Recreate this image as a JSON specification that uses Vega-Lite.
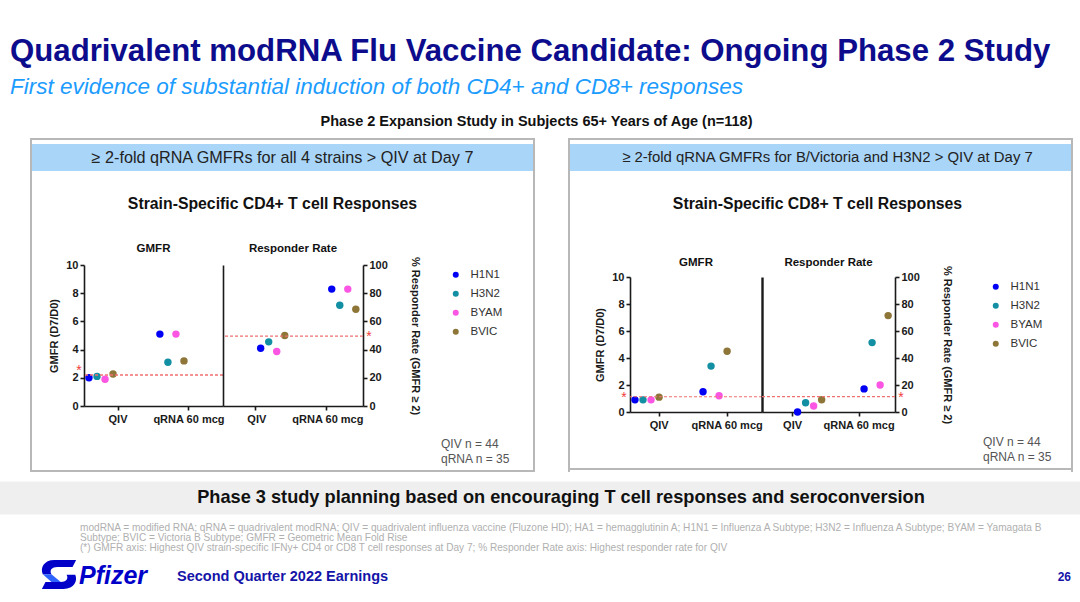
{
  "$schema": "https://vega.github.io/schema/vega-lite/v6.json",
  "background": "white",
  "padding": {"left": 0, "right": 0, "top": 36, "bottom": 0},
  "datasets": {
    "one": [{}],
    "pts": [
      {"panel": "CD4", "measure": "GMFR", "group": "QIV", "strain": "H1N1", "value": 2.0},
      {"panel": "CD4", "measure": "GMFR", "group": "QIV", "strain": "H3N2", "value": 2.1},
      {"panel": "CD4", "measure": "GMFR", "group": "QIV", "strain": "BYAM", "value": 1.9},
      {"panel": "CD4", "measure": "GMFR", "group": "QIV", "strain": "BVIC", "value": 2.27},
      {"panel": "CD4", "measure": "GMFR", "group": "qRNA 60 mcg", "strain": "H1N1", "value": 5.1},
      {"panel": "CD4", "measure": "GMFR", "group": "qRNA 60 mcg", "strain": "H3N2", "value": 3.1},
      {"panel": "CD4", "measure": "GMFR", "group": "qRNA 60 mcg", "strain": "BYAM", "value": 5.1},
      {"panel": "CD4", "measure": "GMFR", "group": "qRNA 60 mcg", "strain": "BVIC", "value": 3.2},
      {"panel": "CD4", "measure": "RR", "group": "QIV", "strain": "H1N1", "value": 40.9},
      {"panel": "CD4", "measure": "RR", "group": "QIV", "strain": "H3N2", "value": 45.5},
      {"panel": "CD4", "measure": "RR", "group": "QIV", "strain": "BYAM", "value": 38.6},
      {"panel": "CD4", "measure": "RR", "group": "QIV", "strain": "BVIC", "value": 50.0},
      {"panel": "CD4", "measure": "RR", "group": "qRNA 60 mcg", "strain": "H1N1", "value": 82.9},
      {"panel": "CD4", "measure": "RR", "group": "qRNA 60 mcg", "strain": "H3N2", "value": 71.4},
      {"panel": "CD4", "measure": "RR", "group": "qRNA 60 mcg", "strain": "BYAM", "value": 82.9},
      {"panel": "CD4", "measure": "RR", "group": "qRNA 60 mcg", "strain": "BVIC", "value": 68.6},
      {"panel": "CD8", "measure": "GMFR", "group": "QIV", "strain": "H1N1", "value": 0.9},
      {"panel": "CD8", "measure": "GMFR", "group": "QIV", "strain": "H3N2", "value": 0.9},
      {"panel": "CD8", "measure": "GMFR", "group": "QIV", "strain": "BYAM", "value": 0.9},
      {"panel": "CD8", "measure": "GMFR", "group": "QIV", "strain": "BVIC", "value": 1.1},
      {"panel": "CD8", "measure": "GMFR", "group": "qRNA 60 mcg", "strain": "H1N1", "value": 1.5},
      {"panel": "CD8", "measure": "GMFR", "group": "qRNA 60 mcg", "strain": "H3N2", "value": 3.4},
      {"panel": "CD8", "measure": "GMFR", "group": "qRNA 60 mcg", "strain": "BYAM", "value": 1.2},
      {"panel": "CD8", "measure": "GMFR", "group": "qRNA 60 mcg", "strain": "BVIC", "value": 4.5},
      {"panel": "CD8", "measure": "RR", "group": "QIV", "strain": "H1N1", "value": 0},
      {"panel": "CD8", "measure": "RR", "group": "QIV", "strain": "H3N2", "value": 6.8},
      {"panel": "CD8", "measure": "RR", "group": "QIV", "strain": "BYAM", "value": 4.5},
      {"panel": "CD8", "measure": "RR", "group": "QIV", "strain": "BVIC", "value": 9.1},
      {"panel": "CD8", "measure": "RR", "group": "qRNA 60 mcg", "strain": "H1N1", "value": 17.1},
      {"panel": "CD8", "measure": "RR", "group": "qRNA 60 mcg", "strain": "H3N2", "value": 51.4},
      {"panel": "CD8", "measure": "RR", "group": "qRNA 60 mcg", "strain": "BYAM", "value": 20.0},
      {"panel": "CD8", "measure": "RR", "group": "qRNA 60 mcg", "strain": "BVIC", "value": 71.4}
    ],
    "refs": [
      {"panel": "CD4", "measure": "GMFR", "value": 2.2},
      {"panel": "CD4", "measure": "RR", "value": 49.5},
      {"panel": "CD8", "measure": "GMFR", "value": 1.13},
      {"panel": "CD8", "measure": "RR", "value": 11.4}
    ],
    "logo": [{"part": "dark"}, {"part": "light"}]
  },
  "config": {
    "font": "Liberation Sans",
    "view": {"stroke": null},
    "axis": {"labelFontSize": 11, "labelFontWeight": "bold", "labelColor": "#1a1a1a", "labelOverlap": false, "titleFontSize": 11, "titleFontWeight": "bold", "titleColor": "#1a1a1a", "domainColor": "#1a1a1a", "domainWidth": 1.6, "tickColor": "#1a1a1a", "tickWidth": 1.6, "tickSize": 4, "grid": false, "labelPadding": 2},
    "legend": {"labelFontSize": 11.5, "labelColor": "#333333", "symbolSize": 36, "symbolType": "circle", "rowPadding": 6, "labelOffset": 9, "padding": 4},
    "title": {"font": "Liberation Sans"}
  },
  "title": {"text": "Quadrivalent modRNA Flu Vaccine Candidate: Ongoing Phase 2 Study", "subtitle": "First evidence of substantial induction of both CD4+ and CD8+ responses", "anchor": "start", "dx": 10, "fontSize": 31.2, "fontWeight": "bold", "color": "#0c0c8c", "subtitleFontSize": 22.5, "subtitleFontStyle": "italic", "subtitleColor": "#1c9cff", "subtitlePadding": 8, "offset": 16},
  "spacing": 5.5,
  "vconcat": [
    {
      "spacing": 0,
      "title": {"text": "Phase 2 Expansion Study in Subjects 65+ Years of Age (n=118)", "fontSize": 14.5, "fontWeight": "bold", "color": "#111111", "anchor": "middle", "offset": 3.5},
      "hconcat": [
        {"data": {"name": "one"}, "mark": {"type": "text", "text": ""}, "width": 30, "height": 334},
        {
          "spacing": 0,
          "hconcat": [
            {"data": {"name": "one"}, "mark": {"type": "text", "text": ""}, "width": 2, "height": 334, "view": {"fill": "#b8b8b8", "stroke": null}},
            {
              "spacing": 0,
              "vconcat": [
                {"data": {"name": "one"}, "mark": {"type": "text", "text": ""}, "width": 501, "height": 2, "view": {"fill": "#b8b8b8", "stroke": null}},
                {"width": 501, "height": 27, "view": {"fill": "#a9d5f8", "stroke": null}, "data": {"name": "one"}, "mark": {"type": "text", "text": "≥ 2-fold qRNA GMFRs for all 4 strains > QIV at Day 7", "align": "center", "baseline": "middle", "fontSize": 16.2, "color": "#222222"}},
                {"width": 501, "height": 71, "data": {"name": "one"}, "mark": {"type": "text", "text": "Strain-Specific CD4+ T cell Responses", "dx": -10, "dy": -2.5, "align": "center", "baseline": "middle", "fontSize": 15.8, "fontWeight": "bold", "color": "#111111"}},
                {
                  "bounds": "flush",
                  "spacing": 0,
                  "resolve": {"scale": {"color": "independent"}},
                  "hconcat": [
                    {"data": {"name": "one"}, "mark": {"type": "text", "text": ""}, "width": 52, "height": 141},
                    {
                      "width": 139, "height": 141,
                      "title": {"text": "GMFR", "fontSize": 11.5, "fontWeight": "bold", "color": "#111111", "offset": 5, "frame": "group"},
                      "layer": [
                        {
                          "data": {"name": "pts"},
                          "transform": [{"filter": "datum.panel === 'CD4' && datum.measure === 'GMFR'"}],
                          "mark": {"type": "circle", "size": 55, "opacity": 1},
                          "encoding": {
                            "x": {"field": "group", "type": "nominal", "sort": ["QIV", "qRNA 60 mcg"], "scale": {"type": "band", "paddingInner": 0.52, "paddingOuter": 0.24, "align": 0}, "axis": {"title": null, "labelAngle": 0, "bandPosition": 1, "labelOffset": 17, "labelPadding": 3}},
                            "xOffset": {"field": "strain", "type": "nominal", "sort": ["H1N1", "H3N2", "BYAM", "BVIC"], "scale": {"type": "point", "padding": 0.62}},
                            "y": {"field": "value", "type": "quantitative", "scale": {"domain": [0, 10], "nice": false}, "axis": {"title": "GMFR (D7/D0)", "values": [0, 2, 4, 6, 8, 10], "titlePadding": 6}},
                            "color": {"field": "strain", "type": "nominal", "scale": {"domain": ["H1N1", "H3N2", "BYAM", "BVIC"], "range": ["#0000f5", "#128fa3", "#fb55e3", "#8e7638"]}, "legend": null}
                          }
                        },
                        {
                          "data": {"name": "refs"},
                          "transform": [{"filter": "datum.panel === 'CD4' && datum.measure === 'GMFR'"}],
                          "mark": {"type": "rule", "color": "#f07070", "strokeDash": [3, 2], "strokeWidth": 1.3},
                          "encoding": {"y": {"field": "value", "type": "quantitative", "axis": {"title": "GMFR (D7/D0)", "values": [0, 2, 4, 6, 8, 10], "titlePadding": 6}}}
                        },
                        {
                          "data": {"name": "refs"},
                          "transform": [{"filter": "datum.panel === 'CD4' && datum.measure === 'GMFR'"}],
                          "mark": {"type": "text", "text": "*", "x": 0, "dx": -5, "dy": -4, "align": "center", "baseline": "middle", "fontSize": 14, "color": "#f03c3c"},
                          "encoding": {"y": {"field": "value", "type": "quantitative", "axis": {"title": "GMFR (D7/D0)", "values": [0, 2, 4, 6, 8, 10], "titlePadding": 6}}}
                        }
                      ]
                    },
                    {
                      "width": 140, "height": 141,
                      "title": {"text": "Responder  Rate", "fontSize": 11.5, "fontWeight": "bold", "color": "#111111", "offset": 1.5, "frame": "group"},
                      "resolve": {"axis": {"y": "independent"}},
                      "layer": [
                        {
                          "data": {"name": "pts"},
                          "transform": [{"filter": "datum.panel === 'CD4' && datum.measure === 'RR'"}],
                          "mark": {"type": "circle", "size": 55, "opacity": 1},
                          "encoding": {
                            "x": {"field": "group", "type": "nominal", "sort": ["QIV", "qRNA 60 mcg"], "scale": {"type": "band", "paddingInner": 0.49, "paddingOuter": 0.23, "align": 1}, "axis": {"title": null, "labelAngle": 0, "bandPosition": 0, "labelOffset": -17, "labelPadding": 3}},
                            "xOffset": {"field": "strain", "type": "nominal", "sort": ["H1N1", "H3N2", "BYAM", "BVIC"], "scale": {"type": "point", "padding": 0.75}},
                            "y": {"field": "value", "type": "quantitative", "scale": {"domain": [0, 100], "nice": false}, "axis": {"orient": "right", "title": "% Responder Rate (GMFR ≥ 2)", "values": [0, 20, 40, 60, 80, 100], "titlePadding": 22}},
                            "color": {"field": "strain", "type": "nominal", "scale": {"domain": ["H1N1", "H3N2", "BYAM", "BVIC"], "range": ["#0000f5", "#128fa3", "#fb55e3", "#8e7638"]}, "legend": {"title": null, "orient": "right", "offset": 25}}
                          }
                        },
                        {
                          "data": {"name": "refs"},
                          "transform": [{"filter": "datum.panel === 'CD4' && datum.measure === 'RR'"}],
                          "mark": {"type": "rule", "color": "#f07070", "strokeDash": [3, 2], "strokeWidth": 1.3},
                          "encoding": {"y": {"field": "value", "type": "quantitative", "axis": {"orient": "left", "labels": false, "ticks": false, "title": null, "domain": true}}}
                        },
                        {
                          "data": {"name": "refs"},
                          "transform": [{"filter": "datum.panel === 'CD4' && datum.measure === 'RR'"}],
                          "mark": {"type": "text", "text": "*", "x": "width", "dx": 6, "dy": 1, "align": "center", "baseline": "middle", "fontSize": 14, "color": "#f03c3c"},
                          "encoding": {"y": {"field": "value", "type": "quantitative", "axis": null}}
                        }
                      ]
                    },
                    {"data": {"name": "one"}, "mark": {"type": "text", "text": ""}, "width": 170, "height": 141,
                     "title": {"text": ["QIV n = 44", "qRNA n = 35"], "orient": "bottom", "anchor": "start", "dx": 78, "offset": 33, "fontSize": 12, "fontWeight": "normal", "color": "#555555", "lineHeight": 15}}
                  ]
                },
                {"data": {"name": "one"}, "mark": {"type": "text", "text": ""}, "width": 501, "height": 2, "view": {"fill": "#b8b8b8", "stroke": null}}
              ]
            },
            {"data": {"name": "one"}, "mark": {"type": "text", "text": ""}, "width": 2, "height": 334, "view": {"fill": "#b8b8b8", "stroke": null}}
          ]
        },
        {"data": {"name": "one"}, "mark": {"type": "text", "text": ""}, "width": 33, "height": 334},
        {
          "spacing": 0,
          "hconcat": [
            {"data": {"name": "one"}, "mark": {"type": "text", "text": ""}, "width": 2, "height": 334, "view": {"fill": "#b8b8b8", "stroke": null}},
            {
              "spacing": 0,
              "vconcat": [
                {"data": {"name": "one"}, "mark": {"type": "text", "text": ""}, "width": 501, "height": 2, "view": {"fill": "#b8b8b8", "stroke": null}},
                {"width": 501, "height": 27, "view": {"fill": "#a9d5f8", "stroke": null}, "data": {"name": "one"}, "mark": {"type": "text", "text": "≥ 2-fold qRNA GMFRs for B/Victoria and H3N2 > QIV at Day 7", "dx": 7, "align": "center", "baseline": "middle", "fontSize": 14.9, "color": "#222222"}},
                {"width": 501, "height": 85, "data": {"name": "one"}, "mark": {"type": "text", "text": "Strain-Specific CD8+ T cell Responses", "dx": -3, "dy": -10, "align": "center", "baseline": "middle", "fontSize": 15.8, "fontWeight": "bold", "color": "#111111"}},
                {
                  "bounds": "flush",
                  "spacing": 0,
                  "resolve": {"scale": {"color": "independent"}},
                  "hconcat": [
                    {"data": {"name": "one"}, "mark": {"type": "text", "text": ""}, "width": 60, "height": 135},
                    {
                      "width": 132, "height": 135,
                      "title": {"text": "GMFR", "fontSize": 11.5, "fontWeight": "bold", "color": "#111111", "offset": 3, "frame": "group"},
                      "layer": [
                        {
                          "data": {"name": "pts"},
                          "transform": [{"filter": "datum.panel === 'CD8' && datum.measure === 'GMFR'"}],
                          "mark": {"type": "circle", "size": 55, "opacity": 1},
                          "encoding": {
                            "x": {"field": "group", "type": "nominal", "sort": ["QIV", "qRNA 60 mcg"], "scale": {"type": "band", "paddingInner": 0.57, "paddingOuter": 0.255, "align": 0}, "axis": {"title": null, "labelAngle": 0, "bandPosition": 1, "labelOffset": 14.5, "labelPadding": 3}},
                            "xOffset": {"field": "strain", "type": "nominal", "sort": ["H1N1", "H3N2", "BYAM", "BVIC"], "scale": {"type": "point", "padding": 0.31}},
                            "y": {"field": "value", "type": "quantitative", "scale": {"domain": [0, 10], "nice": false}, "axis": {"title": "GMFR (D7/D0)", "values": [0, 2, 4, 6, 8, 10], "titlePadding": 6}},
                            "color": {"field": "strain", "type": "nominal", "scale": {"domain": ["H1N1", "H3N2", "BYAM", "BVIC"], "range": ["#0000f5", "#128fa3", "#fb55e3", "#8e7638"]}, "legend": null}
                          }
                        },
                        {
                          "data": {"name": "refs"},
                          "transform": [{"filter": "datum.panel === 'CD8' && datum.measure === 'GMFR'"}],
                          "mark": {"type": "rule", "color": "#f07070", "strokeDash": [3, 2], "strokeWidth": 1.1},
                          "encoding": {"y": {"field": "value", "type": "quantitative", "axis": {"title": "GMFR (D7/D0)", "values": [0, 2, 4, 6, 8, 10], "titlePadding": 6}}}
                        },
                        {
                          "data": {"name": "refs"},
                          "transform": [{"filter": "datum.panel === 'CD8' && datum.measure === 'GMFR'"}],
                          "mark": {"type": "text", "text": "*", "x": 0, "dx": -6, "dy": 1, "align": "center", "baseline": "middle", "fontSize": 14, "color": "#f03c3c"},
                          "encoding": {"y": {"field": "value", "type": "quantitative", "axis": {"title": "GMFR (D7/D0)", "values": [0, 2, 4, 6, 8, 10], "titlePadding": 6}}}
                        }
                      ]
                    },
                    {
                      "width": 133, "height": 135,
                      "title": {"text": "Responder  Rate", "fontSize": 11.5, "fontWeight": "bold", "color": "#111111", "offset": -3, "frame": "group"},
                      "resolve": {"axis": {"y": "independent"}},
                      "layer": [
                        {
                          "data": {"name": "pts"},
                          "transform": [{"filter": "datum.panel === 'CD8' && datum.measure === 'RR'"}],
                          "mark": {"type": "circle", "size": 55, "opacity": 1},
                          "encoding": {
                            "x": {"field": "group", "type": "nominal", "sort": ["QIV", "qRNA 60 mcg"], "scale": {"type": "band", "paddingInner": 0.46, "paddingOuter": 0.23, "align": 1}, "axis": {"title": null, "labelAngle": 0, "bandPosition": 0, "labelOffset": -18, "labelPadding": 3}},
                            "xOffset": {"field": "strain", "type": "nominal", "sort": ["H1N1", "H3N2", "BYAM", "BVIC"], "scale": {"type": "point", "padding": 0.75}},
                            "y": {"field": "value", "type": "quantitative", "scale": {"domain": [0, 100], "nice": false}, "axis": {"orient": "right", "title": "% Responder Rate (GMFR ≥ 2)", "values": [0, 20, 40, 60, 80, 100], "titlePadding": 22}},
                            "color": {"field": "strain", "type": "nominal", "scale": {"domain": ["H1N1", "H3N2", "BYAM", "BVIC"], "range": ["#0000f5", "#128fa3", "#fb55e3", "#8e7638"]}, "legend": {"title": null, "orient": "right", "offset": 33}}
                          }
                        },
                        {
                          "data": {"name": "refs"},
                          "transform": [{"filter": "datum.panel === 'CD8' && datum.measure === 'RR'"}],
                          "mark": {"type": "rule", "color": "#f07070", "strokeDash": [3, 2], "strokeWidth": 1.1},
                          "encoding": {"y": {"field": "value", "type": "quantitative", "axis": {"orient": "left", "labels": false, "ticks": false, "title": null, "domain": true, "domainWidth": 2.4}}}
                        },
                        {
                          "data": {"name": "refs"},
                          "transform": [{"filter": "datum.panel === 'CD8' && datum.measure === 'RR'"}],
                          "mark": {"type": "text", "text": "*", "x": "width", "dx": 6, "dy": 1, "align": "center", "baseline": "middle", "fontSize": 14, "color": "#f03c3c"},
                          "encoding": {"y": {"field": "value", "type": "quantitative", "axis": null}}
                        }
                      ]
                    },
                    {"data": {"name": "one"}, "mark": {"type": "text", "text": ""}, "width": 176, "height": 135,
                     "title": {"text": ["QIV n = 44", "qRNA n = 35"], "orient": "bottom", "anchor": "start", "dx": 88, "offset": 24.5, "fontSize": 12, "fontWeight": "normal", "color": "#555555", "lineHeight": 15}}
                  ]
                },
                {"data": {"name": "one"}, "mark": {"type": "text", "text": ""}, "width": 501, "height": 2, "view": {"fill": "#b8b8b8", "stroke": null}}
              ]
            },
            {"data": {"name": "one"}, "mark": {"type": "text", "text": ""}, "width": 2, "height": 334, "view": {"fill": "#b8b8b8", "stroke": null}}
          ]
        }
      ]
    },
    {
      "bounds": "flush",
      "spacing": 0,
      "vconcat": [
        {"width": 1080, "height": 33, "view": {"fill": "#efefef", "stroke": null}, "data": {"name": "one"}, "mark": {"type": "text", "text": "Phase 3 study planning based on encouraging T cell responses and seroconversion", "dx": 21, "align": "center", "baseline": "middle", "fontSize": 18.2, "fontWeight": "bold", "color": "#111111"}},
        {"width": 1080, "height": 37, "data": {"name": "one"}, "mark": {"type": "text", "text": ["modRNA = modified RNA; qRNA = quadrivalent modRNA; QIV = quadrivalent influenza vaccine (Fluzone HD); HA1 = hemagglutinin A; H1N1 = Influenza A Subtype; H3N2 = Influenza A Subtype; BYAM = Yamagata B", "Subtype; BVIC = Victoria B Subtype; GMFR =  Geometric Mean Fold Rise", "(*) GMFR axis: Highest QIV strain-specific IFNy+ CD4 or CD8 T cell responses at Day 7; % Responder Rate axis: Highest responder rate for QIV"], "x": 0, "dx": 80, "y": 0, "dy": 13, "align": "left", "baseline": "middle", "fontSize": 10.1, "lineHeight": 10, "color": "#b0b0b0"}},
        {"width": 1080, "height": 47,
         "layer": [
           {"data": {"name": "logo"}, "transform": [{"filter": "datum.part === 'dark'"}], "mark": {"type": "point", "filled": true, "opacity": 1, "x": 59, "y": 23, "size": 1300, "color": "#0000c9", "shape": "M 0.95 -0.8 L -0.25 -0.8 C -0.85 -0.8 -1.05 -0.35 -0.9 -0.02 L -0.42 -0.02 C -0.55 -0.25 -0.38 -0.42 -0.1 -0.42 L 0.75 -0.42 Z M -0.95 0.8 L 0.25 0.8 C 0.85 0.8 1.05 0.35 0.9 0.02 L 0.42 0.02 C 0.55 0.25 0.38 0.42 0.1 0.42 L -0.75 0.42 Z"}},
           {"data": {"name": "logo"}, "transform": [{"filter": "datum.part === 'light'"}], "mark": {"type": "point", "filled": true, "opacity": 1, "x": 59, "y": 23, "size": 1300, "color": "#2f63ff", "shape": "M -0.42 -0.02 L -0.9 -0.02 L -0.42 0.42 L 0.1 0.42 Z"}},
           {"data": {"name": "one"}, "mark": {"type": "text", "text": "Pfizer", "x": 0, "dx": 79, "y": 0, "dy": 24, "align": "left", "baseline": "middle", "fontSize": 25, "fontStyle": "italic", "fontWeight": "bold", "color": "#0000c9"}},
           {"data": {"name": "one"}, "mark": {"type": "text", "text": "Second Quarter 2022 Earnings", "x": 0, "dx": 177, "y": 0, "dy": 25, "align": "left", "baseline": "middle", "fontSize": 14.5, "fontWeight": "bold", "color": "#1414a8"}},
           {"data": {"name": "one"}, "mark": {"type": "text", "text": "26", "x": "width", "dx": -9, "y": 0, "dy": 25, "align": "right", "baseline": "middle", "fontSize": 12, "fontWeight": "bold", "color": "#1414a8"}}
         ]}
      ]
    }
  ]
}
